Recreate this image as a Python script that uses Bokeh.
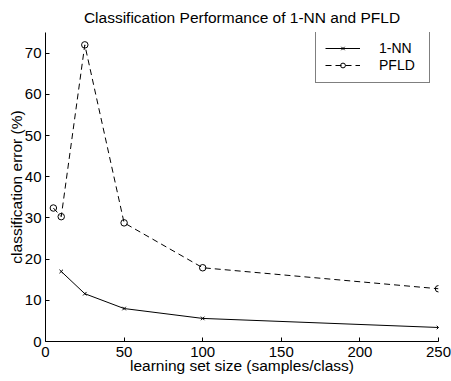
from bokeh.plotting import figure
from bokeh.models import Range1d, FixedTicker, Legend, LegendItem
from bokeh.embed import file_html
from bokeh.resources import INLINE

# data
nn_x = [10, 25, 50, 100, 250]
nn_y = [17.0, 11.6, 8.0, 5.6, 3.4]
pfld_x = [5, 10, 25, 50, 100, 250]
pfld_y = [32.4, 30.3, 72.0, 28.8, 17.9, 12.8]
x_ticks = [0, 50, 100, 150, 200, 250]
y_ticks = [0, 10, 20, 30, 40, 50, 60, 70]

FONT = "Liberation Sans"

p = figure(width=451, height=381, output_backend="svg", toolbar_location=None,
           x_range=Range1d(0, 250), y_range=Range1d(0, 75),
           min_border_left=45, min_border_right=13, min_border_top=32, min_border_bottom=40,
           title="Classification Performance of 1-NN and PFLD")
p.outline_line_color = None
p.xgrid.grid_line_color = None
p.ygrid.grid_line_color = None
p.background_fill_color = "white"
p.border_fill_color = "white"

p.title.align = "center"
p.title.text_font = FONT
p.title.text_font_size = "15.5px"
p.title.text_font_style = "normal"
p.title.text_color = "black"
p.title.standoff = 13

for ax in (p.xaxis[0], p.yaxis[0]):
    ax.axis_line_color = "black"
    ax.major_tick_line_color = "black"
    ax.major_tick_in = 4
    ax.major_tick_out = 0
    ax.minor_tick_line_color = None
    ax.major_label_text_font = FONT
    ax.major_label_text_font_size = "15px"
    ax.major_label_text_color = "black"
    ax.axis_label_text_font = FONT
    ax.axis_label_text_font_size = "15.5px"
    ax.axis_label_text_font_style = "normal"
    ax.axis_label_text_color = "black"

p.xaxis.ticker = FixedTicker(ticks=x_ticks)
p.yaxis.ticker = FixedTicker(ticks=y_ticks)
p.xaxis.axis_label = "learning set size (samples/class)"
p.yaxis.axis_label = "classification error (%)"
p.xaxis.major_label_standoff = 5
p.xaxis.axis_label_standoff = -3
p.yaxis.major_label_standoff = 4
p.yaxis.axis_label_standoff = -3

l1 = p.line(nn_x, nn_y, line_color="black", line_width=1)
s1 = p.scatter(nn_x, nn_y, marker="x", size=5, line_color="black", line_width=1)
l2 = p.line(pfld_x, pfld_y, line_color="black", line_width=1, line_dash="6 4")
s2 = p.scatter(pfld_x, pfld_y, marker="circle", size=6.5, line_color="black",
               fill_color=None, line_width=1)

legend = Legend(items=[LegendItem(label="1-NN", renderers=[l1, s1]),
                       LegendItem(label="PFLD", renderers=[l2, s2])],
                location=(270, 258))
legend.border_line_color = "black"
legend.border_line_width = 1
legend.background_fill_color = "white"
legend.background_fill_alpha = 1
legend.padding = 9
legend.spacing = 1
legend.margin = 0
legend.glyph_width = 35
legend.glyph_height = 12
legend.label_height = 12
legend.label_width = 41
legend.label_standoff = 19
legend.label_text_font = FONT
legend.label_text_font_size = "14px"
legend.label_text_line_height = 0.8
legend.label_text_color = "black"
legend.label_text_baseline = "middle"
p.add_layout(legend, "center")

open("out.html", "w").write(file_html(p, INLINE))
